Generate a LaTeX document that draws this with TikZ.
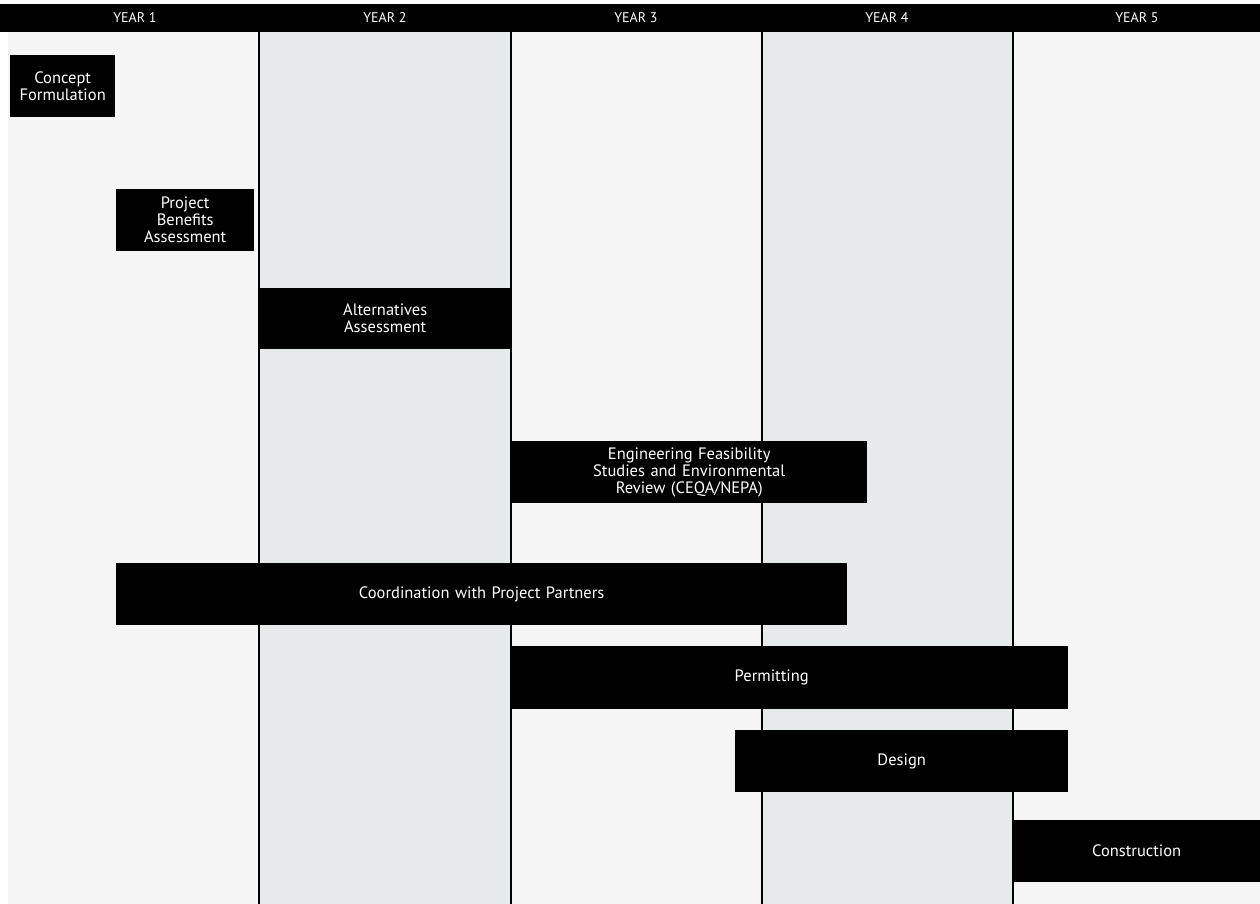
\documentclass[tikz,border=0pt]{standalone}
\usepackage{fontspec}
\setmainfont{PT Sans}
\begin{document}
\begin{tikzpicture}[x=1pt,y=-1pt,
  task/.style={fill=black,text=white,align=center,font=\fontsize{16.5}{17}\selectfont,inner sep=0pt,anchor=north west},
  yearlab/.style={text=white,font=\fontsize{14}{16}\selectfont},
  colA/.style={fill=black!4},
  colB/.style={fill=black!9!white!98!cyan},
  divider/.style={draw=black,line width=1.3pt}]
\useasboundingbox (0,0) rectangle (1260,904);
\fill[white] (0,0) rectangle (1260,904);
% columns
\fill[colA] (8,32) rectangle (259,904);
\fill[colB] (259,32) rectangle (511,904);
\fill[colA] (511,32) rectangle (762,904);
\fill[colB] (762,32) rectangle (1013,904);
\fill[colA] (1013,32) rectangle (1260,904);
% header
\fill[black] (0,4) rectangle (1260,32);
\node[yearlab] (y1) at (135,18) {YEAR 1};
\node[yearlab] (y2) at (385,18) {YEAR 2};
\node[yearlab] (y3) at (636,18) {YEAR 3};
\node[yearlab] (y4) at (887,18) {YEAR 4};
\node[yearlab] (y5) at (1137,18) {YEAR 5};
% dividers
\draw[divider] (259,32) -- (259,904);
\draw[divider] (511,32) -- (511,904);
\draw[divider] (762,32) -- (762,904);
\draw[divider] (1013,32) -- (1013,904);
% tasks
\node[task,minimum width=105pt,minimum height=62pt,text width=105pt] (t1) at (10,55) {Concept\\Formulation};
\node[task,minimum width=138pt,minimum height=62pt,text width=138pt] (t2) at (116,189) {Project\\Benefits\\Assessment};
\node[task,minimum width=252pt,minimum height=61pt,text width=252pt] (t3) at (259,288) {Alternatives\\Assessment};
\node[task,minimum width=356pt,minimum height=62pt,text width=356pt] (t4) at (511,441) {Engineering Feasibility\\Studies and Environmental\\Review (CEQA/NEPA)};
\node[task,minimum width=731pt,minimum height=62pt,text width=731pt] (t5) at (116,563) {Coordination with Project Partners};
\node[task,minimum width=557pt,minimum height=63pt,text width=557pt] (t6) at (511,646) {Permitting\hspace*{36pt}};
\node[task,minimum width=333pt,minimum height=62pt,text width=333pt] (t7) at (735,730) {Design};
\node[task,minimum width=247pt,minimum height=62pt,text width=247pt] (t8) at (1013,820) {Construction};
\end{tikzpicture}
\end{document}
